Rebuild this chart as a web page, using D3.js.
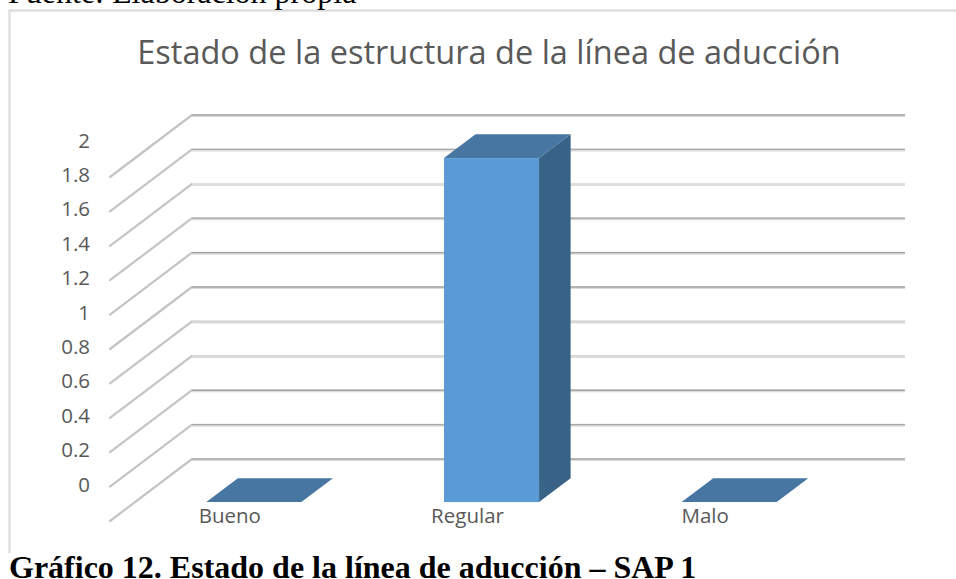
<!DOCTYPE html>
<html><head><meta charset="utf-8">
<script src="https://d3js.org/d3.v7.min.js"></script>
<style>html,body{margin:0;padding:0;background:#fff;overflow:hidden}svg{display:block}</style>
</head><body><svg id="c" width="956" height="579"></svg>
<script>
const categories = ["Bueno","Regular","Malo"];
const values = [0,2,0];
const yTicks = [0,0.2,0.4,0.6,0.8,1,1.2,1.4,1.6,1.8,2];
const gridTones = ["#a8a8a8","#a8a8a8","#a6a6a6","#d8d8d8","#d4d4d4","#a6a6a6","#a0a0a0","#b0b0b0","#e0e0e0","#acacac","#a6a6a6"];
const chartTitle = "Estado de la estructura de la línea de aducción";
const sourceText = "Fuente: Elaboración propia";
const captionText = "Gráfico 12. Estado de la línea de aducción – SAP 1";

const svg = d3.select("#c");
const x = d3.scaleBand().domain(categories).range([110,823]).paddingInner(0.6).paddingOuter(0.3);
const y = d3.scaleLinear().domain([0,2]).range([521,177]);
const depth = d3.scaleLinear().domain([0,1]);
const dx = depth.copy().range([0,82]), dy = depth.copy().range([0,-62]);
const barFront = 0.305, barBack = 0.69, rightEnd = 905, sans = "'Open Sans','Noto Sans',sans-serif";

// frame
svg.append("path").attr("d","M9.5,553V10.5H956").attr("fill","none").attr("stroke","#dedede").attr("stroke-width",2.4);

// document text
svg.append("text").attr("x",8).attr("y",3).attr("font-family","'Liberation Serif',serif").attr("font-size",32).attr("fill","#000").text(sourceText);
svg.append("text").attr("x",9).attr("y",578).attr("font-family","'Liberation Serif',serif").attr("font-weight","bold").attr("font-size",32).attr("fill","#000").text(captionText);

// title
svg.append("text").attr("x",489).attr("y",64).attr("text-anchor","middle").attr("font-family",sans).attr("font-size",32.5).attr("fill","#595959").text(chartTitle);

// gridlines and wall
const x0 = x.range()[0];
const grid = svg.append("g").selectAll("g").data(yTicks).join("g");
grid.append("path")
  .attr("d",d=>`M${x0},${y(d)}L${x0+dx(1)},${y(d)+dy(1)}`)
  .attr("fill","none").attr("stroke","#c4c4c4").attr("stroke-width",2.2).attr("stroke-linecap","round");
grid.append("path")
  .attr("d",d=>`M${x0+dx(1)},${y(d)+dy(1)+0.6}H${rightEnd}`)
  .attr("fill","none").attr("stroke","#dcdcdc").attr("stroke-width",3);
grid.append("path")
  .attr("d",d=>`M${x0+dx(1)},${y(d)+dy(1)}H${rightEnd}`)
  .attr("fill","none").attr("stroke",(d,i)=>gridTones[i]).attr("stroke-width",1.4);

// bars
const bars = svg.append("g").selectAll("g").data(categories.map((c,i)=>({c,v:values[i]}))).join("g");
const fx = d=>x(d.c)+dx(barFront), bx = d=>x(d.c)+dx(barBack);
const fy0 = y(0)+dy(barFront), by0 = y(0)+dy(barBack);
const h = d=>y(0)-y(d.v);
bars.filter(d=>d.v>0).append("path").attr("fill","#386387")
  .attr("d",d=>`M${fx(d)+x.bandwidth()},${fy0-h(d)}L${bx(d)+x.bandwidth()},${by0-h(d)}V${by0}L${fx(d)+x.bandwidth()},${fy0}Z`);
bars.filter(d=>d.v>0).append("rect").attr("fill","#5b9bd5")
  .attr("x",fx).attr("y",d=>fy0-h(d)).attr("width",x.bandwidth()).attr("height",h);
bars.append("path").attr("fill","#4676a1")
  .attr("d",d=>`M${fx(d)},${fy0-h(d)}L${bx(d)},${by0-h(d)}H${bx(d)+x.bandwidth()}L${fx(d)+x.bandwidth()},${fy0-h(d)}Z`);

// axis labels
const yAxis = d3.axisLeft(y).tickValues(yTicks).tickSize(0).tickPadding(0).tickFormat(d3.format("~g"));
const ga = svg.append("g").attr("transform","translate(90,-36.5)").call(yAxis);
ga.select(".domain").remove();
ga.selectAll("text").attr("font-family",sans).attr("font-size",20.5).attr("fill","#595959");
const xAxis = d3.axisBottom(x).tickSize(0).tickPadding(0);
const gx = svg.append("g").attr("transform","translate(1,508)").call(xAxis);
gx.select(".domain").remove();
gx.selectAll("text").attr("font-family",sans).attr("font-size",20.5).attr("fill","#595959");
</script></body></html>
